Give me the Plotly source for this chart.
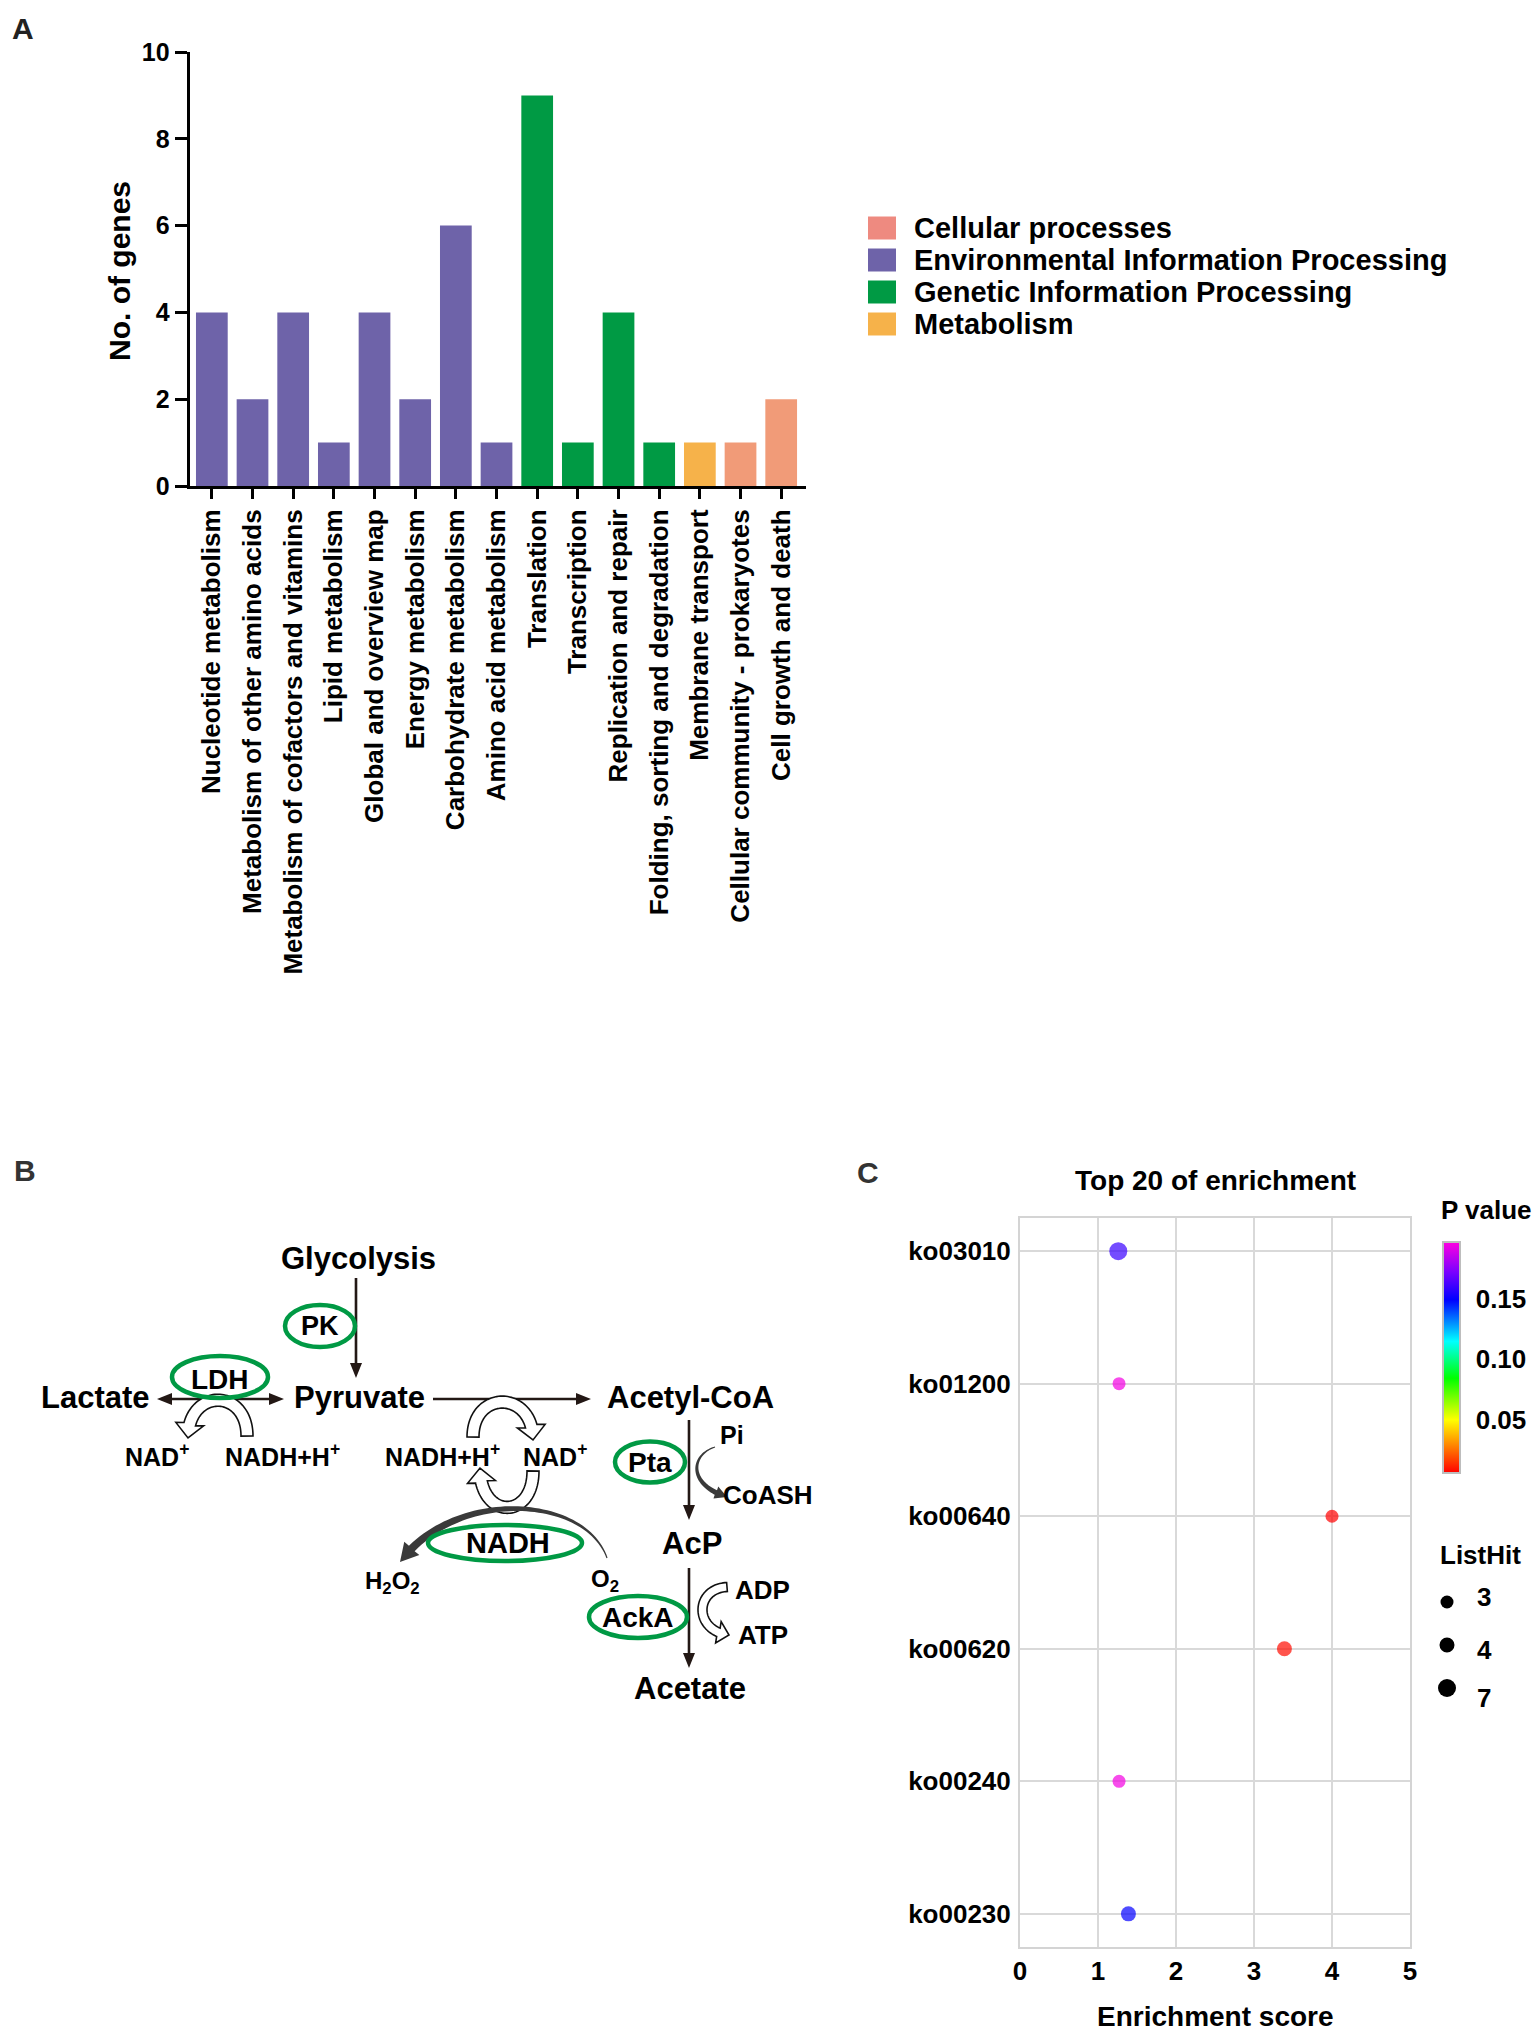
import numpy as np
import plotly.graph_objects as go

W, H = 1536, 2033
FONT = "Liberation Sans, Arial, Helvetica, sans-serif"

# ---------------- Panel A data ----------------
go_categories = [
    "Nucleotide metabolism", "Metabolism of other amino acids",
    "Metabolism of cofactors and vitamins", "Lipid metabolism",
    "Global and overview map", "Energy metabolism", "Carbohydrate metabolism",
    "Amino acid metabolism", "Translation", "Transcription",
    "Replication and repair", "Folding, sorting and degradation",
    "Membrane transport", "Cellular community - prokaryotes",
    "Cell growth and death",
]
gene_counts = [4, 2, 4, 1, 4, 2, 6, 1, 9, 1, 4, 1, 1, 1, 2]
category_groups = (["Environmental Information Processing"] * 8
                   + ["Genetic Information Processing"] * 4
                   + ["Metabolism"] + ["Cellular processes"] * 2)
legend_groups = ["Cellular processes", "Environmental Information Processing",
                 "Genetic Information Processing", "Metabolism"]
group_colors = {
    "Environmental Information Processing": "#6E63A9",
    "Genetic Information Processing": "#009A44",
    "Metabolism": "#F6B24A",
    "Cellular processes": "#F19B78",
}
legend_colors = {
    "Cellular processes": "#EE8A80",
    "Environmental Information Processing": "#6E63A9",
    "Genetic Information Processing": "#009A44",
    "Metabolism": "#F6B24A",
}
y_ticks_a = [0, 2, 4, 6, 8, 10]

# ---------------- Panel C data ----------------
pathways = ["ko03010", "ko01200", "ko00640", "ko00620", "ko00240", "ko00230"]
enrichment_scores = [1.26, 1.27, 4.00, 3.39, 1.27, 1.39]
p_values = [0.160, 0.195, 0.006, 0.008, 0.195, 0.150]
list_hits = [7, 3, 3, 4, 3, 4]
x_ticks_c = [0, 1, 2, 3, 4, 5]
p_ticks = [0.05, 0.10, 0.15]
p_tick_text = ["0.05", "0.10", "0.15"]
listhit_legend_values = [3, 4, 7]
p_range = [0.006, 0.197]


def fx(x):
    return x / W


def fy(y):
    return 1 - y / H


def hit_size(h):
    return float(np.interp(h, [3, 4, 7], [13, 15, 18]))


fig = go.Figure()

# ---- Panel A bars ----
seen = []
for g in category_groups:
    if g not in seen:
        seen.append(g)
for g in seen:
    idx = [i for i, c in enumerate(category_groups) if c == g]
    fig.add_trace(go.Bar(
        x=[go_categories[i] for i in idx], y=[gene_counts[i] for i in idx],
        marker=dict(color=group_colors[g], line=dict(width=0)), width=0.78,
        name=g, showlegend=False, xaxis="x", yaxis="y", hoverinfo="x+y"))

# ---- Panel C dots ----
rainbow = [[0.0, "#FF0000"], [0.115, "#FF8000"], [0.23, "#FFFF00"],
           [0.41, "#00FF00"], [0.57, "#00FFFF"], [0.75, "#0000FF"],
           [0.87, "#7A00FF"], [1.0, "#FF00E0"]]
fig.add_trace(go.Scatter(
    x=enrichment_scores, y=pathways, mode="markers", xaxis="x2", yaxis="y2",
    showlegend=False,
    marker=dict(size=[hit_size(h) for h in list_hits], color=p_values,
                colorscale=rainbow, cmin=p_range[0], cmax=p_range[1],
                line=dict(width=0),
                colorbar=dict(x=fx(1443), xanchor="left", xpad=0,
                              y=fy(1242), yanchor="top", ypad=0,
                              len=231 / H, lenmode="fraction", thickness=17,
                              outlinecolor="#BDBDBD", outlinewidth=2,
                              tickvals=p_ticks, ticktext=p_tick_text,
                              ticks="outside", ticklen=10,
                              tickcolor="rgba(0,0,0,0)",
                              tickfont=dict(family=FONT, size=26, color="black",
                                            weight="bold"))),
))

shapes = []
annotations = []


def text(t, x, y, size, color="black", xanchor="center", angle=0):
    annotations.append(dict(text=t, x=fx(x), y=fy(y), xref="paper", yref="paper",
                            showarrow=False, xanchor=xanchor, yanchor="middle",
                            textangle=angle,
                            font=dict(family=FONT, size=size, color=color,
                                      weight="bold")))


def to_path(poly):
    parts = []
    for i, (x, y) in enumerate(poly):
        parts.append(("M" if i == 0 else "L") + "%.5f,%.5f" % (fx(x), fy(y)))
    return " ".join(parts) + " Z"


def cubic(p0, p1, p2, p3, n=60):
    p0, p1, p2, p3 = map(np.array, (p0, p1, p2, p3))
    t = np.linspace(0, 1, n)[:, None]
    return ((1 - t) ** 3) * p0 + 3 * ((1 - t) ** 2) * t * p1 + 3 * (1 - t) * t ** 2 * p2 + t ** 3 * p3


def arrow_poly(pts, w0, w1, head_len, head_w):
    pts = np.asarray(pts, float)
    seg = np.diff(pts, axis=0)
    L = np.r_[0, np.cumsum(np.hypot(seg[:, 0], seg[:, 1]))]
    cut = L[-1] - head_len
    base = np.array([np.interp(cut, L, pts[:, 0]), np.interp(cut, L, pts[:, 1])])
    shaft = np.vstack([pts[L < cut], base])
    d = np.gradient(shaft, axis=0)
    d /= np.hypot(d[:, 0], d[:, 1])[:, None]
    nrm = np.c_[-d[:, 1], d[:, 0]]
    s = np.linspace(0, 1, len(shaft))[:, None]
    w = (w0 + (w1 - w0) * s) / 2
    left = shaft + nrm * w
    right = shaft - nrm * w
    tip = pts[-1]
    u = (tip - base) / np.hypot(*(tip - base))
    n2 = np.array([-u[1], u[0]])
    return np.vstack([left, base + n2 * head_w / 2, tip, base - n2 * head_w / 2, right[::-1]])


DARK = "#231815"


def straight_arrow(x0, y0, x1, y1):
    pts = np.c_[np.linspace(x0, x1, 10), np.linspace(y0, y1, 10)]
    shapes.append(dict(type="path", xref="paper", yref="paper",
                       path=to_path(arrow_poly(pts, 2.6, 2.6, 15, 12)),
                       fillcolor=DARK, line=dict(width=0)))


def hollow_arrow(p0, p1, p2, p3, w=12, hl=14, hw=28):
    shapes.append(dict(type="path", xref="paper", yref="paper",
                       path=to_path(arrow_poly(cubic(p0, p1, p2, p3), w, w, hl, hw)),
                       fillcolor="white", line=dict(color="#111111", width=1.6)))


def dark_arrow(p0, p1, p2, p3, w0, w1, hl, hw):
    shapes.append(dict(type="path", xref="paper", yref="paper",
                       path=to_path(arrow_poly(cubic(p0, p1, p2, p3), w0, w1, hl, hw)),
                       fillcolor="#3A3A3A", line=dict(width=0)))


GREEN = "#009944"


def ellipse(cx, cy, w, h):
    shapes.append(dict(type="circle", xref="paper", yref="paper",
                       x0=fx(cx - w / 2), x1=fx(cx + w / 2),
                       y0=fy(cy + h / 2), y1=fy(cy - h / 2),
                       line=dict(color=GREEN, width=4.5)))


# ---- Panel A legend (drawn from the legend lists) ----
for i, g in enumerate(legend_groups):
    cy = 228 + i * 32
    shapes.append(dict(type="rect", xref="paper", yref="paper",
                       x0=fx(868), x1=fx(896), y0=fy(cy + 11.5), y1=fy(cy - 11.5),
                       fillcolor=legend_colors[g], line=dict(width=0)))
    text(g, 912, cy, 29, xanchor="left")

text("No. of genes", 119, 271, 30, angle=-90)

# ---- Panel B pathway ----
straight_arrow(356, 1278, 356, 1378)
straight_arrow(220, 1399, 157, 1399)
straight_arrow(220, 1399, 284, 1399)
straight_arrow(433, 1399, 591, 1399)
straight_arrow(689, 1420, 689, 1520)
straight_arrow(689, 1568, 689, 1668)

hollow_arrow((247, 1436), (247, 1388), (188, 1388), (188, 1438))
hollow_arrow((473, 1437), (473, 1390), (533, 1390), (533, 1440))
hollow_arrow((533, 1471), (533, 1520), (480, 1520), (480, 1468))
hollow_arrow((727, 1587), (694, 1589), (694, 1631), (729, 1635), w=9, hl=11, hw=22)

dark_arrow((607, 1558), (585, 1495), (455, 1488), (400, 1562), 1.2, 8, 18, 20)
dark_arrow((715, 1447), (690, 1455), (688, 1485), (727, 1497), 1.0, 5, 12, 13)

ellipse(320, 1326, 70, 42)
ellipse(220, 1377, 96, 42)
ellipse(505, 1543, 154, 36)
ellipse(650, 1462, 70, 41)
ellipse(638, 1617, 98, 42)

for t, x, y, s in [
    ("Glycolysis", 358, 1258, 31), ("PK", 320, 1326, 27),
    ("Lactate", 95, 1397, 31), ("Pyruvate", 359, 1397, 31),
    ("LDH", 220, 1379, 28), ("NAD<sup>+</sup>", 157, 1455, 25),
    ("NADH+H<sup>+</sup>", 282, 1455, 25), ("Acetyl-CoA", 690, 1397, 31),
    ("NADH+H<sup>+</sup>", 442, 1455, 25), ("NAD<sup>+</sup>", 555, 1455, 25),
    ("NADH", 508, 1543, 29), ("H<sub>2</sub>O<sub>2</sub>", 392, 1582, 24),
    ("O<sub>2</sub>", 605, 1580, 24), ("Pta", 650, 1462, 28),
    ("Pi", 732, 1435, 25), ("CoASH", 768, 1495, 26), ("AcP", 692, 1543, 31),
    ("AckA", 638, 1617, 28), ("ADP", 762, 1590, 26), ("ATP", 763, 1635, 26),
    ("Acetate", 690, 1688, 31),
]:
    text(t, x, y, s)

# ---- Panel letters and C texts ----
text("A", 23, 29, 30, color="#222222")
text("B", 25, 1170, 30, color="#333333")
text("C", 868, 1172, 30, color="#333333")
text("Top 20 of enrichment", 1215, 1180, 28)
text("Enrichment score", 1215, 2016, 28)
text("P value", 1439, 1210, 26, xanchor="left")
text("ListHit", 1438, 1555, 26, xanchor="left")

# ListHit size legend
label_dy = {3: -5, 4: 5, 7: 10}
for i, h in enumerate(listhit_legend_values):
    cy = 1602 + i * 43
    r = hit_size(h) / 2
    shapes.append(dict(type="circle", xref="paper", yref="paper",
                       x0=fx(1447 - r), x1=fx(1447 + r), y0=fy(cy + r), y1=fy(cy - r),
                       fillcolor="black", line=dict(width=0)))
    text(str(h), 1475, cy + label_dy[h], 26, xanchor="left")

tickfont_a = dict(family=FONT, size=26, color="black", weight="bold")
fig.update_layout(
    width=W, height=H, margin=dict(l=0, r=0, t=0, b=0),
    paper_bgcolor="white", plot_bgcolor="white", showlegend=False,
    barmode="overlay",
    xaxis=dict(domain=[fx(189.6), fx(806)], range=[-0.547, 14.61], type="category",
               categoryorder="array", categoryarray=go_categories, tickangle=-90,
               ticks="outside", ticklen=10, tickwidth=3, tickcolor="black",
               showline=True, linewidth=3, linecolor="black", tickfont=tickfont_a,
               showgrid=False, zeroline=False, anchor="y", automargin=False),
    yaxis=dict(domain=[fy(486), fy(52)], range=[0, 10], tickvals=y_ticks_a,
               ticks="outside", ticklen=12, tickwidth=3, tickcolor="black",
               showline=True, linewidth=3, linecolor="black", tickangle=0,
               tickfont=dict(family=FONT, size=25, color="black", weight="bold"),
               showgrid=False, zeroline=False, anchor="x", automargin=False),
    xaxis2=dict(domain=[fx(1020), fx(1410)], range=[0, 5], tickvals=x_ticks_c,
                showline=True, mirror=True, linecolor="#D4D4D4", linewidth=2,
                showgrid=True, gridcolor="#D9D9D9", gridwidth=2, zeroline=False,
                ticks="", ticklabelstandoff=0,
                tickfont=dict(family=FONT, size=26, color="black", weight="bold"),
                anchor="y2", automargin=False),
    yaxis2=dict(domain=[fy(1947), fy(1218)], type="category", categoryorder="array",
                categoryarray=pathways, range=[5.25, -0.25],
                showline=True, mirror=True, linecolor="#D4D4D4", linewidth=2,
                showgrid=True, gridcolor="#D9D9D9", gridwidth=2, zeroline=False,
                ticks="", ticklabelstandoff=2,
                tickfont=dict(family=FONT, size=26, color="black", weight="bold"),
                anchor="x2", automargin=False),
    shapes=shapes, annotations=annotations,
)

fig.write_html("out.html", include_plotlyjs=True, full_html=True,
               config={"displayModeBar": False},
               post_script="document.body.style.margin='0';document.body.style.overflow='hidden';")
